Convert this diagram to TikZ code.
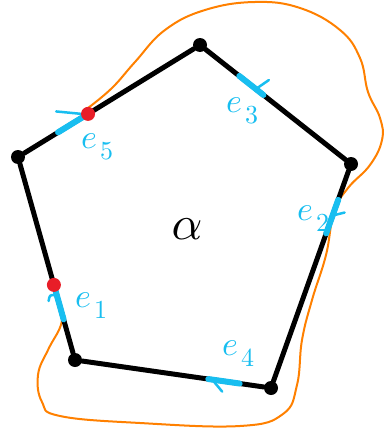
\documentclass[tikz,border=0pt]{standalone}
\usetikzlibrary{calc}
\definecolor{tagblue}{RGB}{24,190,240}
\definecolor{cutred}{RGB}{232,30,40}
\definecolor{looporange}{RGB}{255,128,0}
\newcommand{\elab}[1]{\scalebox{3.4}{$e$}\kern3pt\raisebox{-11pt}{\scalebox{2.6}{#1}}}

\begin{document}
\begin{tikzpicture}
  [x=1pt, y=-1pt, line cap=round, line join=round,
   vertex/.style={circle, fill=black, inner sep=0pt, minimum size=14pt},
   cut/.style={circle, fill=cutred, inner sep=0pt, minimum size=14pt},
   side/.style={draw=black, line width=5pt},
   edgetag/.style={draw=tagblue, line width=6pt},
   barb/.style={draw=tagblue, line width=2.5pt},
   elabel/.style={text=tagblue, anchor=base west, inner sep=0pt}]

  \useasboundingbox (0,0) rectangle (386,431);

  % the orange loop
  \draw[draw=looporange, line width=2pt] plot[smooth, tension=0.7] coordinates {
    (88,108) (112,88) (135,62) (165,30) (205,10) (255,2) (300,8) (340,30)
    (360,58) (368,92) (380,118) (382,140) (370,165) (348,188) (334,212)
    (326,255) (312,300) (302,340) (297,385) (283,414) (240,426) (140,423)
    (60,416) (42,402) (38,375) (48,350) (59,330) (62,320)};

  \node[vertex] (A) at (200,45) {};
  \node[vertex] (B) at (351,164) {};
  \node[vertex] (C) at (271,388) {};
  \node[vertex] (D) at (75,360) {};
  \node[vertex] (E) at (18,157) {};

  \foreach \from/\to in {A/B, B/C, C/D, D/E, E/A}
    \draw[side] (\from) -- (\to);

  % edge tags
  \draw[edgetag] ($(E)!0.22!(A)$) -- ($(E)!0.38!(A)$) coordinate (t5);
  \draw[barb] (t5) -- ++(-31,-3);
  \draw[edgetag] ($(A)!0.26!(B)$) -- ($(A)!0.42!(B)$);
  \draw[barb] ($(A)!0.37!(B)$) -- ++(13,-9);
  \draw[edgetag] ($(B)!0.16!(C)$) -- ($(B)!0.31!(C)$);
  \draw[barb] ($(B)!0.23!(C)$) -- ++(12,-3);
  \draw[edgetag] ($(E)!0.66!(D)$) coordinate (t1) -- ($(E)!0.80!(D)$);
  \draw[barb] (t1) ++(0,4) .. controls +(-6,0) .. ++(-7,6);
  \draw[edgetag] ($(D)!0.68!(C)$) -- ($(D)!0.84!(C)$);
  \draw[barb] ($(D)!0.70!(C)$) -- ++(10,12);

  % cut points
  \node[cut] (r5) at ($(E)!0.385!(A)$) {};
  \node[cut] (r1) at ($(E)!0.63!(D)$) {};

  \node[elabel] (l5) at (81,148) {\elab{5}};
  \node[elabel] (l3) at (226,112) {\elab{3}};
  \node[elabel] (l2) at (297,220) {\elab{2}};
  \node[elabel] (l1) at (75,307) {\elab{1}};
  \node[elabel] (l4) at (222,355) {\elab{4}};

  \node (alpha) at (187,229) {\scalebox{4.8}{$\alpha$}};
\end{tikzpicture}
\end{document}
